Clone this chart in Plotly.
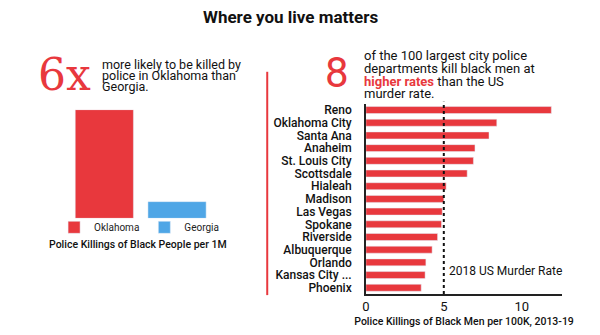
import plotly.graph_objects as go

# ---- data ----
states = ["Oklahoma", "Georgia"]
state_rates = [13.0, 2.0]
state_colors = ["#e8383d", "#4fa6e6"]

cities = ["Reno", "Oklahoma City", "Santa Ana", "Anaheim", "St. Louis City",
          "Scottsdale", "Hialeah", "Madison", "Las Vegas", "Spokane",
          "Riverside", "Albuquerque", "Orlando", "Kansas City ...", "Phoenix"]
city_rates = [11.9, 8.4, 7.9, 7.0, 6.9, 6.5, 5.15, 5.0, 4.9, 4.85,
              4.6, 4.25, 3.85, 3.8, 3.55]
murder_rate = 5.0
x_ticks = [0, 5, 10]

RED = "#e8383d"
W, H = 600, 335
FONT = "Roboto"


def px(x):
    return x / W


def py(y):
    return 1 - y / H


fig = go.Figure()

for s, v, c in zip(states, state_rates, state_colors):
    fig.add_trace(go.Bar(x=[s], y=[v], name=s, marker_color=c, width=0.8,
                         xaxis="x", yaxis="y", showlegend=True))

fig.add_trace(go.Bar(x=city_rates, y=cities, orientation="h", marker_color=RED,
                     width=0.55, xaxis="x2", yaxis="y2", showlegend=False))

annotations = []


def ann(text, x, y, size, color="#111", xanchor="left", family=FONT, weight=None):
    f = dict(family=family, size=size, color=color)
    if weight:
        f["weight"] = weight
    annotations.append(dict(text=text, x=px(x), y=py(y), xref="paper", yref="paper",
                            xanchor=xanchor, yanchor="middle", showarrow=False,
                            borderpad=0, font=f))


# title
ann("<b>Where you live matters</b>", 288, 17, 17, xanchor="center")

# left header
ann("6x", 33, 75, 44, color=RED, family="DejaVu Serif")
for t, y in zip(["more likely to be killed by", "police in Oklahoma than", "Georgia."],
                [65, 76, 87]):
    ann(t, 98, y, 12.5)
ann("Police Killings of Black People per 1M", 135, 245, 10.5, xanchor="center", weight=500)

# right header
ann("8", 322, 73, 42, color=RED)
lines = ["of the 100 largest city police",
         "departments kill black men at",
         "<span style='color:%s'><b>higher rates</b></span> than the US" % RED,
         "murder rate."]
for t, y in zip(lines, [56, 69, 81.5, 94]):
    ann(t, 361, y, 13)

# murder rate label
ann("2018 US Murder Rate", 447, 272, 12)

shapes = [
    dict(type="line", xref="paper", yref="paper", x0=px(265), x1=px(265),
         y0=py(72), y1=py(296), line=dict(color=RED, width=2)),
    dict(type="line", xref="x2", yref="y2 domain", x0=murder_rate, x1=murder_rate,
         y0=0, y1=1.01, line=dict(color="#111", width=2, dash="dot")),
]

fig.update_layout(
    width=W, height=H,
    margin=dict(l=0, r=0, t=0, b=0),
    paper_bgcolor="white", plot_bgcolor="white",
    barmode="overlay",
    font=dict(family=FONT, color="#111"),
    xaxis=dict(domain=[px(64.4), px(210.8)], range=[-0.5, 1.5], visible=False,
               categoryorder="array", categoryarray=states),
    yaxis=dict(domain=[py(219), py(110)], range=[0, max(state_rates)], visible=False),
    xaxis2=dict(domain=[px(364.3), px(562)], range=[0, 12.6], anchor="y2",
                tickvals=x_ticks, showline=True, linecolor="#222", linewidth=1.5,
                showgrid=False, zeroline=False, ticks="",
                tickfont=dict(size=13, color="#111"),
                title=dict(text="Police Killings of Black Men per 100K, 2013-19",
                           font=dict(size=10.5, color="#111", weight=500), standoff=4)),
    yaxis2=dict(domain=[py(295), py(104)], anchor="x2", range=[14.5, -0.5],
                showline=True, linecolor="#222", linewidth=1.5, showgrid=False,
                ticks="", ticklabelstandoff=10, tickmode="linear", tick0=0, dtick=1,
                tickfont=dict(size=12, color="#111", weight=500)),
    legend=dict(orientation="h", x=px(136), y=py(228), xanchor="center", yanchor="middle",
                font=dict(size=10, color="#222"), itemwidth=30, bgcolor="rgba(0,0,0,0)"),
    annotations=annotations,
    shapes=shapes,
    bargap=0.2,
)

fig.write_html("out.html")
